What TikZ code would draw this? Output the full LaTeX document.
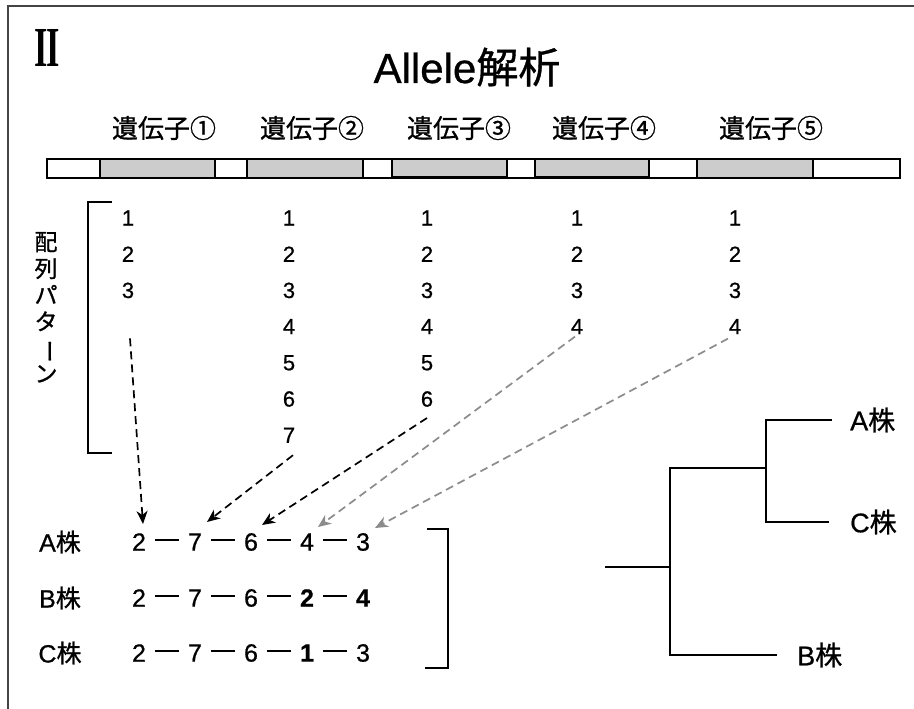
\documentclass[tikz,border=0pt]{standalone}
\usepackage{fontspec}
\setmainfont{Liberation Sans}[FakeBold=0.7]
\newfontfamily\jp{Noto Sans CJK JP}[FakeBold=0.9]
\newfontfamily\serifont{Liberation Serif}
\usetikzlibrary{arrows.meta,calc}
\definecolor{barg}{HTML}{CCCCCC}
\definecolor{arrg}{HTML}{8C8C8C}
\definecolor{frm}{HTML}{444444}
\begin{document}
\begin{tikzpicture}[x=1pt,y=-1pt,
  frameline/.style={line width=1.6pt,draw=frm},
  titletext/.style={inner sep=0pt,anchor=base,font=\fontsize{42}{48}\selectfont},
  genelab/.style={inner sep=0pt,font=\jp\fontsize{26}{30}\selectfont},
  segw/.style={draw=black,line width=1.3pt,fill=white},
  segg/.style={draw=black,line width=1.3pt,fill=barg},
  num/.style={inner sep=0pt,font=\fontsize{22}{26}\selectfont},
  seqnum/.style={inner sep=0pt,font=\fontsize{25}{30}\selectfont},
  strain/.style={inner sep=0pt,font=\fontsize{25}{30}\selectfont},
  treelab/.style={inner sep=0pt,anchor=west,font=\fontsize{27}{32}\selectfont},
  seqdash/.style={line width=1.8pt},
  bracket/.style={line width=1.5pt},
  treeline/.style={line width=1.5pt},
  darr/.style={dash pattern=on 8pt off 5pt,line width=1.7pt,
    -{Stealth[length=13pt,width=11pt,inset=4pt]}},
  darrb/.style={darr,draw=black},
  darrg/.style={darr,draw=arrg}]
\useasboundingbox (0,0) rectangle (914,709);
\clip (0,0) rectangle (914,709);
\fill[white] (0,0) rectangle (914,709);
% frame
\draw[frameline] (8,720) -- (8,6) -- (930,6);
% roman numeral
\node[inner sep=0pt,anchor=south] (rn) at (47,67) {\resizebox{25pt}{37pt}{\serifont\bfseries I\kern-0.05em I}};
% title
\node[titletext] (title) at (467,83) {Allele{\jp 解析}};
% gene labels
\node[genelab] (g1) at (164,128) {遺伝子①};
\node[genelab] (g2) at (312,128) {遺伝子②};
\node[genelab] (g3) at (459,128) {遺伝子③};
\node[genelab] (g4) at (604,128) {遺伝子④};
\node[genelab] (g5) at (771,128) {遺伝子⑤};
% bar
\draw[segw] (47,159) rectangle (100,178);
\draw[segg] (100,159) rectangle (215,178);
\draw[segw] (215,159) rectangle (247,178);
\draw[segg] (247,159) rectangle (363,178);
\draw[segw] (363,159) rectangle (392,178);
\draw[segg] (392,159) rectangle (507,178);
\draw[segw] (507,159) rectangle (535,178);
\draw[segg] (535,159) rectangle (649,178);
\draw[segw] (649,159) rectangle (697,178);
\draw[segg] (697,159) rectangle (813,178);
\draw[segw] (813,159) rectangle (900,178);
\draw[line width=2.6pt] (392,177.5) -- (507,177.5);
\draw[line width=2.6pt] (535,177.5) -- (649,177.5);
% vertical label
\node[inner sep=0pt] (vt) at (46,311) {\jp\fontsize{23}{26}\selectfont
  \begin{tabular}{@{}c@{}}配\\列\\パ\\タ\\\rotatebox[origin=c]{-90}{ー}\\ン\end{tabular}};
% left bracket
\draw[bracket] (112,202) -- (88,202) -- (88,453) -- (112,453);
% numbers
\foreach \c/\x/\n in {1/128/3,2/289/7,3/427/6,4/577/4,5/735/4}{
  \foreach \r in {1,...,\n}{
    \node[num] (c\c r\r) at (\x,{218+36.2*(\r-1)}) {\r};
  }
}
% strains
\node[strain] (la) at (60,542) {A{\jp 株}};
\node[strain] (lb) at (60,598) {B{\jp 株}};
\node[strain] (lc) at (60,653) {C{\jp 株}};
\node[seqnum] (a1) at (139,542) {2};
\node[seqnum] (a2) at (195,542) {7};
\node[seqnum] (a3) at (251,542) {6};
\node[seqnum] (a4) at (307,542) {4};
\node[seqnum] (a5) at (363,542) {3};
\node[seqnum] (b1) at (139,598) {2};
\node[seqnum] (b2) at (195,598) {7};
\node[seqnum] (b3) at (251,598) {6};
\node[seqnum] (b4) at (307,598) {\bfseries 2};
\node[seqnum] (b5) at (363,598) {\bfseries 4};
\node[seqnum] (c1) at (139,653) {2};
\node[seqnum] (c2) at (195,653) {7};
\node[seqnum] (c3) at (251,653) {6};
\node[seqnum] (c4) at (307,653) {\bfseries 1};
\node[seqnum] (c5) at (363,653) {3};
\foreach \r in {a,b,c}{
  \foreach \i/\j in {1/2,2/3,3/4,4/5}{
    \draw[seqdash] ($(\r\i)!0.29!(\r\j)+(0,-2)$) -- ($(\r\i)!0.71!(\r\j)+(0,-2)$);
  }
}
% right bracket
\draw[bracket] (427,529) -- (448,529) -- (448,668) -- (425,668);
% arrows
\coordinate (s1) at ($(c1r3)+(2,48)$);
\coordinate (s2) at ($(c2r7)+(4,20)$);
\coordinate (s3) at ($(c3r6)+(0,19)$);
\coordinate (s4) at ($(c4r4)+(-2,10)$);
\coordinate (s5) at ($(c5r4)+(-7,12)$);
\coordinate (t1) at ($(a1)+(4,-18)$);
\coordinate (t2) at ($(a2)+(12,-20)$);
\coordinate (t3) at ($(a3)+(11,-17)$);
\coordinate (t4) at ($(a4)+(11,-15)$);
\coordinate (t5) at ($(a5)+(12,-14)$);
\draw[darrb] (s1) -- (t1);
\draw[darrb] (s2) -- (t2);
\draw[darrb] (s3) -- (t3);
\draw[darrg] (s4) -- (t4);
\draw[darrg] (s5) -- (t5);
% tree
\node[treelab] (tA) at (850,420) {A{\jp 株}};
\node[treelab] (tC) at (850,522) {C{\jp 株}};
\node[treelab] (tB) at (797,655) {B{\jp 株}};
\coordinate (r0) at (605,567);
\coordinate (j1) at (670,567);
\coordinate (j2) at (766,468);
\draw[treeline] (r0) -- (j1);
\draw[treeline] (j1) |- (j2);
\draw[treeline,shorten >=20pt] (j1) |- (tB.west);
\draw[treeline,shorten >=18pt] (j2) |- (tA.west);
\draw[treeline,shorten >=21pt] (j2) |- (tC.west);
\end{tikzpicture}
\end{document}
